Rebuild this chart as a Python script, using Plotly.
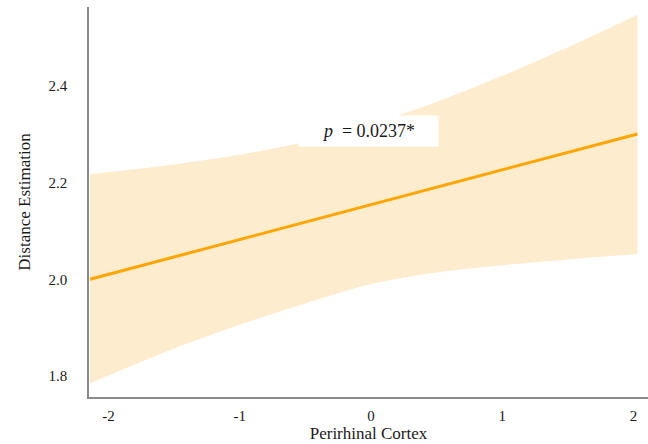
import plotly.graph_objects as go

# Perirhinal cortex (standardised) vs. distance estimation: fitted line with 95% CI
x_vals = [-2.14, -1.5, -1.0, -0.5, 0.0, 0.5, 1.0, 1.5, 2.03]
fit_vals = [2.000, 2.046, 2.082, 2.118, 2.154, 2.190, 2.226, 2.262, 2.300]
ci_upper = [2.217, 2.237, 2.257, 2.284, 2.320, 2.366, 2.420, 2.479, 2.546]
ci_lower = [1.785, 1.857, 1.906, 1.950, 1.990, 2.014, 2.029, 2.041, 2.052]

x_ticks = [-2, -1, 0, 1, 2]
y_ticks = [1.8, 2.0, 2.2, 2.4]
p_label = "<i>p</i>  = 0.0237*"

serif = "Liberation Serif, Times New Roman, serif"
band_color = "rgb(254,236,206)"
line_color = "rgb(255,165,0)"
text_color = "#1a1a1a"

fig = go.Figure()

# confidence band: lower edge, then upper edge filled down to it
fig.add_trace(go.Scatter(
    x=x_vals, y=ci_lower, mode="lines",
    line=dict(width=0, color=band_color, shape="spline", smoothing=0.8),
    hoverinfo="skip", showlegend=False,
))
fig.add_trace(go.Scatter(
    x=x_vals, y=ci_upper, mode="lines",
    fill="tonexty", fillcolor=band_color,
    line=dict(width=0, color=band_color, shape="spline", smoothing=0.8),
    hoverinfo="skip", showlegend=False,
))

# regression line
fig.add_trace(go.Scatter(
    x=x_vals, y=fit_vals, mode="lines",
    line=dict(color=line_color, width=3),
    showlegend=False,
))

fig.add_annotation(
    x=-0.02, y=2.306, xref="x", yref="y",
    text=p_label, showarrow=False,
    font=dict(family=serif, size=18, color=text_color),
    bgcolor="white", width=137, height=28, align="center",
)

fig.update_layout(
    width=648, height=444,
    margin=dict(l=89, r=0, t=7, b=47),
    paper_bgcolor="white", plot_bgcolor="white",
    font=dict(family=serif, size=15, color=text_color),
)

fig.update_xaxes(
    range=[-2.148, 2.11], tickvals=x_ticks, ticktext=[str(v) for v in x_ticks],
    showgrid=False, zeroline=False, showline=True, linecolor="#8a8a8a", linewidth=1.5,
    ticks="", ticklabelstandoff=4,
    title=dict(text="Perirhinal Cortex", font=dict(family=serif, size=17, color=text_color), standoff=4),
)
fig.update_yaxes(
    range=[1.757, 2.562], tickvals=y_ticks, ticktext=[f"{v:.1f}" for v in y_ticks],
    showgrid=False, zeroline=False, showline=True, linecolor="#8a8a8a", linewidth=1.5,
    ticks="", ticklabelstandoff=17,
    title=dict(text="Distance Estimation", font=dict(family=serif, size=17, color=text_color), standoff=14),
)

fig.write_html("out.html")
